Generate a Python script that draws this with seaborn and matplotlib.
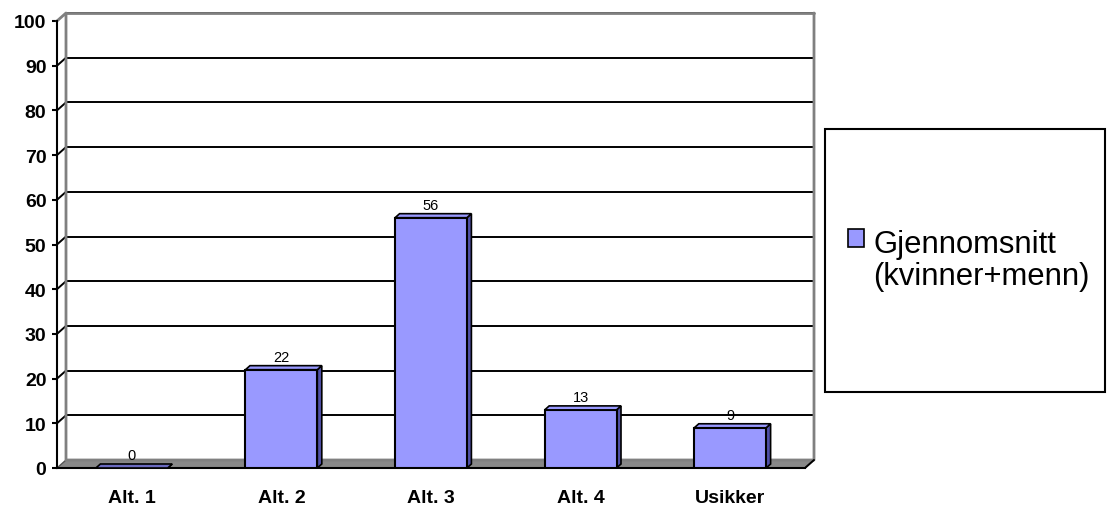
import matplotlib
matplotlib.use("Agg")
import matplotlib.pyplot as plt
import numpy as np
import pandas as pd
import seaborn as sns
from matplotlib.offsetbox import HPacker
from matplotlib.patches import Polygon, Rectangle

categories = ["Alt. 1", "Alt. 2", "Alt. 3", "Alt. 4", "Usikker"]
values = [0, 22, 56, 13, 9]
yticks = list(range(0, 101, 10))
series_label = "Gjennomsnitt\n(kvinner+menn)"

sns.set_style("white")
plt.rcParams['font.family'] = ['Liberation Sans', 'DejaVu Sans']
plt.rcParams['text.color'] = 'black'
plt.rcParams['xtick.color'] = 'black'
plt.rcParams['ytick.color'] = 'black'

fig = plt.figure(figsize=(11.08, 5.06), dpi=100)
ax = fig.add_axes([57 / 1108, 37 / 506, 748 / 1108, 447 / 506])

df = pd.DataFrame({"kategori": categories, "verdi": values})
sns.barplot(df, x="kategori", y="verdi", color="#9999FF", saturation=1, width=0.48,
            edgecolor="black", linewidth=1.5, ax=ax, zorder=3)
ax.set_xlim(-0.5, len(categories) - 0.5)
ax.set_ylim(0, 100)

# pixel -> data units, for the fake 3d look
ux = 748 / len(categories)
uy = 447 / 100
wdx, wdy = 9 / ux, 8 / uy    # back wall offset
bdx, bdy = 4.5 / ux, 4 / uy  # bar depth
x0, x1 = -0.5, len(categories) - 0.5

# floor
ax.add_patch(Polygon([(x0, 0), (x1, 0), (x1 + wdx, wdy), (x0 + wdx, wdy)], closed=True,
                     facecolor="#888888", edgecolor="#555555", lw=1, clip_on=False, zorder=1))
# back wall gridlines
ax.hlines(np.array(yticks[1:]) + wdy, x0 + wdx, x1 + wdx, color="black", lw=1.4, clip_on=False, zorder=1)
for y in yticks[1:-1]:
    ax.plot([x0, x0 + wdx], [y, y + wdy], color="black", lw=1.4, clip_on=False, zorder=1)
# wall border
ax.plot([x0, x0 + wdx, x0 + wdx, x1 + wdx, x1 + wdx],
        [100, 100 + wdy, wdy, wdy, 100 + wdy], color="#808080", lw=2, clip_on=False, zorder=1)
ax.plot([x0 + wdx, x1 + wdx], [100 + wdy, 100 + wdy], color="#808080", lw=2, clip_on=False, zorder=1)
ax.plot([x1, x1 + wdx], [0, wdy], color="black", lw=1.4, clip_on=False, zorder=2)

# bar sides and tops
for p in list(ax.containers[0]):
    bx, bw, bh = p.get_x(), p.get_width(), p.get_height()
    ax.add_patch(Polygon([(bx + bw, 0), (bx + bw + bdx, bdy), (bx + bw + bdx, bh + bdy), (bx + bw, bh)],
                         closed=True, facecolor="#5050a8", edgecolor="black", lw=1.2, zorder=2.5))
    ax.add_patch(Polygon([(bx, bh), (bx + bdx, bh + bdy), (bx + bw + bdx, bh + bdy), (bx + bw, bh)],
                         closed=True, facecolor="#9999FF" if bh > 0 else "#6a6ac0",
                         edgecolor="black", lw=1.2, zorder=3.5))
ax.bar_label(ax.containers[0], labels=[str(v) for v in values], padding=4, fontsize=10.5, color="black")

# axes
sns.despine(ax=ax, top=True, right=True)
for s in ["left", "bottom"]:
    ax.spines[s].set_color("black")
    ax.spines[s].set_linewidth(1.5)
ax.set_xlabel("")
ax.set_ylabel("")
ax.set_yticks(yticks)
ax.set_yticklabels([str(t) for t in yticks], fontsize=14, fontweight="bold")
ax.set_xticks(range(len(categories)))
ax.set_xticklabels(categories, fontsize=14, fontweight="bold")
ax.set_xticks(np.arange(x0, x1 + 0.01, 1), minor=True)
ax.tick_params(axis="x", which="major", length=0, pad=15)
ax.tick_params(axis="x", which="minor", length=4.5, width=1.5, color="black", direction="out")
ax.tick_params(axis="y", length=3.6, width=1.5, color="black", direction="out", pad=4, left=True)
ax.grid(False)

# legend with its own big frame
fig.add_artist(Rectangle((825 / 1108, 113 / 506), 280 / 1108, 263 / 506, transform=fig.transFigure,
                         facecolor="white", edgecolor="black", lw=1.5))
handle = Rectangle((0, 0), 1, 1, facecolor="#9999FF", edgecolor="black", lw=1.2)
leg = fig.legend([handle], [series_label], loc="center left", bbox_to_anchor=(848 / 1108, 245 / 506),
                 frameon=False, fontsize=22.3, handlelength=0.52, handleheight=0.52, handletextpad=0.3,
                 borderpad=0, borderaxespad=0)
for t in leg.get_texts():
    t.set_linespacing(1.07)
for hp in leg.findobj(HPacker):
    hp.align = "top"

fig.savefig("out.png", dpi=100)
